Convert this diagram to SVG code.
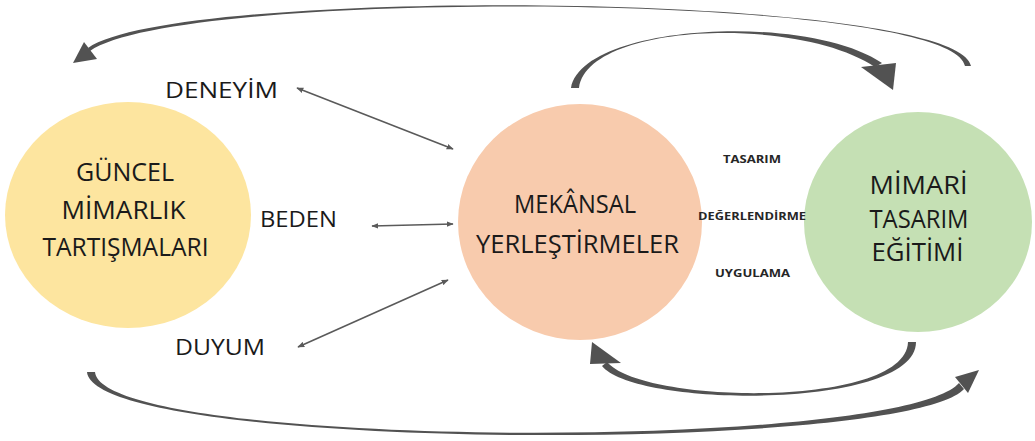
<svg xmlns="http://www.w3.org/2000/svg" width="1035" height="441" viewBox="0 0 1035 441">
  <style>
    .big { font-family: "Open Sans", "Liberation Sans", sans-serif; font-size: 25px; fill: #1a1a1a; text-anchor: middle; }
    .lbl { font-family: "Open Sans", "Liberation Sans", sans-serif; font-size: 22px; fill: #1a1a1a; }
    .sm { font-family: "Open Sans", "Liberation Sans", sans-serif; font-size: 11px; font-weight: bold; fill: #262626; }
    .link { stroke: #5a5a5a; stroke-width: 1.6; fill: none; marker-start: url(#tip); marker-end: url(#tip); }
    .arc { fill: #525252; }
  </style>
  <defs>
    <marker id="tip" viewBox="0 0 10 8" refX="9" refY="4" markerWidth="7" markerHeight="6" markerUnits="userSpaceOnUse" orient="auto-start-reverse">
      <path d="M0,0 L10,4 L0,8 Z" fill="#5a5a5a"/>
    </marker>
  </defs>

  <rect width="1035" height="441" fill="#ffffff"/>

  <!-- nodes -->
  <g id="guncel">
    <ellipse cx="128" cy="215" rx="123" ry="113" fill="#fde59f"/>
    <text class="big" x="125" y="181" textLength="98" lengthAdjust="spacingAndGlyphs">GÜNCEL</text>
    <text class="big" x="123.5" y="219" textLength="124" lengthAdjust="spacingAndGlyphs">MİMARLIK</text>
    <text class="big" x="125.5" y="256" textLength="166" lengthAdjust="spacingAndGlyphs">TARTIŞMALARI</text>
  </g>

  <g id="mekansal">
    <ellipse cx="580" cy="222" rx="122" ry="118" fill="#f8cbad"/>
    <text class="big" x="575" y="213" textLength="122" lengthAdjust="spacingAndGlyphs">MEKÂNSAL</text>
    <text class="big" x="577.5" y="253" textLength="203" lengthAdjust="spacingAndGlyphs">YERLEŞTİRMELER</text>
  </g>

  <g id="egitim">
    <ellipse cx="918" cy="222" rx="114" ry="110" fill="#c5e0b4"/>
    <text class="big" x="918.5" y="194" textLength="98" lengthAdjust="spacingAndGlyphs">MİMARİ</text>
    <text class="big" x="919" y="228" textLength="99" lengthAdjust="spacingAndGlyphs">TASARIM</text>
    <text class="big" x="917.5" y="261" textLength="92" lengthAdjust="spacingAndGlyphs">EĞİTİMİ</text>
  </g>

  <g id="deneyim"><text class="lbl" x="165" y="98" textLength="113" lengthAdjust="spacingAndGlyphs">DENEYİM</text></g>
  <g id="beden"><text class="lbl" x="260" y="227" textLength="77" lengthAdjust="spacingAndGlyphs">BEDEN</text></g>
  <g id="duyum"><text class="lbl" x="175" y="355" textLength="90" lengthAdjust="spacingAndGlyphs">DUYUM</text></g>

  <g id="tasarim"><text class="sm" x="723" y="163" textLength="58" lengthAdjust="spacingAndGlyphs">TASARIM</text></g>
  <g id="degerlendirme"><text class="sm" x="698" y="220" textLength="108" lengthAdjust="spacingAndGlyphs">DEĞERLENDİRME</text></g>
  <g id="uygulama"><text class="sm" x="715" y="277" textLength="75" lengthAdjust="spacingAndGlyphs">UYGULAMA</text></g>

  <!-- connectors -->
  <g id="connectors">
    <line class="link" x1="297" y1="88" x2="453" y2="149"/>
    <line class="link" x1="372" y1="226" x2="453" y2="224"/>
    <line class="link" x1="298" y1="347" x2="448" y2="280"/>

    <!-- large upper arc, right to left -->
    <path class="arc" d="M971,66 C958,-8 178,-15 88,48 L90,51 C180,-13 952,-8 965,66 Z"/>
    <polygon class="arc" points="73,63 84,42 97,59"/>

    <!-- small upper arc, centre to right -->
    <path class="arc" d="M571,88 C582,24 806,12 882,63 L875,67 C800,16 588,22 579,88 Z"/>
    <polygon class="arc" points="861,67 896,63 893,90"/>

    <!-- small lower arc, right to centre -->
    <path class="arc" d="M916,342 C916,410 636,408 602,366 L607,362 C644,405 906,408 908,342 Z"/>
    <polygon class="arc" points="592,342 590,364 621,363"/>

    <!-- large lower arc, left to right -->
    <path class="arc" d="M87,372 C94,452 905,454 964,389 L959,383 C898,452 102,450 95,372 Z"/>
    <polygon class="arc" points="979,370 955,377 968,393"/>
  </g>
</svg>
